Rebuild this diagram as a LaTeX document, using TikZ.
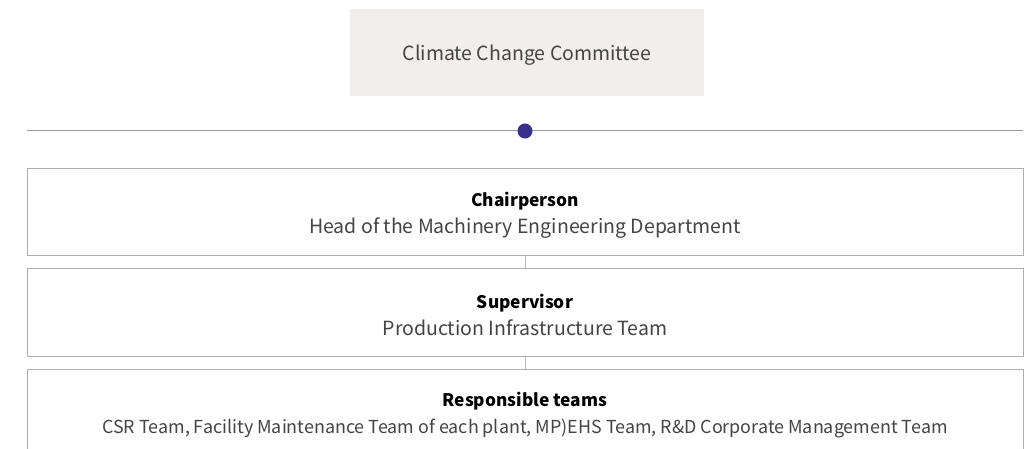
\documentclass[tikz,border=0pt]{standalone}
\usepackage{fontspec}
\setmainfont{Noto Sans CJK KR}
\usepackage{xcolor}
\usetikzlibrary{positioning}

\definecolor{boxfill}{HTML}{F0EFEB}
\definecolor{rulegray}{HTML}{9A9A9A}
\definecolor{dotblue}{HTML}{3B2F8C}
\definecolor{textgray}{HTML}{444444}

% bold heading line of a role box (the strut pushes the text block down a bit)
\newcommand{\rolehead}[1]{{\fontsize{17.3}{27}\selectfont\bfseries\color{black}\rule{0pt}{19pt}#1}}

\tikzset{
  titlebox/.style={fill=boxfill, minimum width=354pt, minimum height=87pt, text=textgray, font=\fontsize{19.5}{22}\selectfont},
  rolebox/.style={draw=rulegray!80, line width=1pt, fill=white, minimum width=996pt, minimum height=87pt, align=center, text=textgray, font=\fontsize{19.5}{27}\selectfont},
  link/.style={draw=rulegray!70, line width=1pt}
}

\begin{document}
\begin{tikzpicture}[x=1pt, y=-1pt]
  % Clip to the page
  \clip (0,0) rectangle (1031,449);

  % Committee title on top
  \node[titlebox] (committee) at (527,52.5) {\rule{0pt}{21pt}Climate Change Committee};

  % Horizontal rule with the dot
  \coordinate (ruleL) at (27,131);
  \coordinate (ruleR) at (1023,131);
  \draw[rulegray, line width=1pt] (ruleL) -- (ruleR);
  \node[circle, fill=dotblue, inner sep=0pt, minimum size=15pt] (dot) at (525,131) {};

  % Role boxes
  \node[rolebox] (chair) at (525,212.5) {\rolehead{Chairperson}\\Head of the Machinery Engineering Department};
  \node[rolebox, below=12pt of chair] (super) {\rolehead{Supervisor}\\Production Infrastructure Team};
  \node[rolebox, below=12pt of super] (teams) {\rolehead{Responsible teams}\\{\fontsize{17.9}{27}\selectfont CSR Team, Facility Maintenance Team of each plant, MP)EHS Team, R\&D Corporate Management Team}};

  % Links between boxes
  \draw[link] (chair.south) -- (super.north);
  \draw[link] (super.south) -- (teams.north);
\end{tikzpicture}
\end{document}
